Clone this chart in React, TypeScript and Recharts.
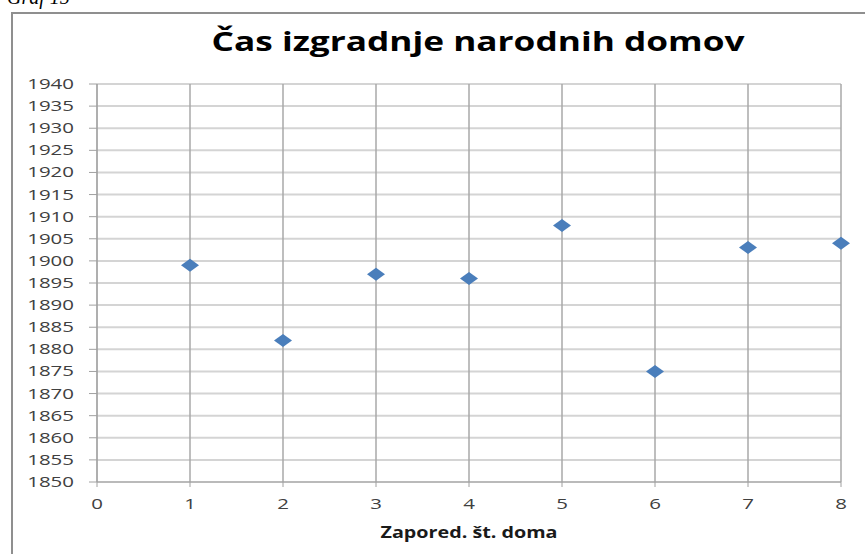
import { ScatterChart, Scatter, XAxis, YAxis, CartesianGrid } from 'recharts'

// zaporedna številka doma in leto izgradnje
const houseNo = [1, 2, 3, 4, 5, 6, 7, 8]
const builtYear = [1899, 1882, 1897, 1896, 1908, 1875, 1903, 1904]

const xTicks = [0, 1, 2, 3, 4, 5, 6, 7, 8]
const yTicks = [
  1850, 1855, 1860, 1865, 1870, 1875, 1880, 1885, 1890, 1895,
  1900, 1905, 1910, 1915, 1920, 1925, 1930, 1935, 1940
]

const title = 'Čas izgradnje narodnih domov'
const xTitle = 'Zapored. št. doma'
const caption = 'Graf 15'

const data = houseNo.map((n, i) => ({ n, year: builtYear[i] }))

const tickFont = "'Open Sans', sans-serif"
const digitWidth = 11.7

// eslint-disable-next-line @typescript-eslint/no-explicit-any
const YTick = (props: any) => {
  const { x, y, payload } = props
  const label = String(payload.value)
  return (
    <text
      x={x}
      y={y}
      dy={5}
      textAnchor="end"
      fontSize={15}
      fontFamily={tickFont}
      fill="#404040"
      textLength={label.length * digitWidth}
      lengthAdjust="spacingAndGlyphs"
    >
      {label}
    </text>
  )
}

// eslint-disable-next-line @typescript-eslint/no-explicit-any
const XTick = (props: any) => {
  const { x, y, payload } = props
  const label = String(payload.value)
  return (
    <text
      x={x}
      y={y}
      dy={5}
      textAnchor="middle"
      fontSize={15}
      fontFamily={tickFont}
      fill="#404040"
      textLength={label.length * digitWidth}
      lengthAdjust="spacingAndGlyphs"
    >
      {label}
    </text>
  )
}

// eslint-disable-next-line @typescript-eslint/no-explicit-any
const Diamond = (props: any) => {
  const { cx, cy } = props
  const w = 9
  const h = 6.5
  return (
    <polygon
      points={`${cx - w},${cy} ${cx},${cy - h} ${cx + w},${cy} ${cx},${cy + h}`}
      fill="#4A7EBB"
    />
  )
}

export default function App() {
  return (
    <div style={{ position: 'absolute', left: 0, top: 0, width: 865, height: 554, overflow: 'hidden', background: '#fff' }}>
      <style>{'body{margin:0}'}</style>
      <div
        style={{
          position: 'absolute',
          left: 11,
          top: 12,
          width: 900,
          height: 600,
          border: '2px solid #8f8f8f'
        }}
      />
      <div style={{ position: 'absolute', left: 0, top: 0 }}>
        <ScatterChart width={865} height={554} margin={{ top: 84, right: 24, bottom: 0, left: 0 }}>
          <CartesianGrid vertical={false} stroke="#d4d4d4" strokeWidth={2} />
          <CartesianGrid horizontal={false} stroke="#a8a8a8" strokeWidth={1.5} />
          <XAxis
            type="number"
            dataKey="n"
            domain={[0, 8]}
            ticks={xTicks}
            interval={0}
            height={72}
            stroke="#a0a0a0"
            tickSize={5}
            tickMargin={17}
            tick={<XTick />}
          />
          <YAxis
            type="number"
            dataKey="year"
            domain={[1850, 1940]}
            ticks={yTicks}
            interval={0}
            width={97}
            stroke="#a0a0a0"
            tickSize={8}
            tickMargin={15}
            tick={<YTick />}
          />
          <Scatter data={data} shape={<Diamond />} isAnimationActive={false} />
        </ScatterChart>
      </div>
      <svg width={865} height={554} style={{ position: 'absolute', left: 0, top: 0, pointerEvents: 'none' }}>
        <text
          x={7}
          y={4}
          fontSize={20}
          fontStyle="italic"
          fontFamily="'Liberation Serif', serif"
          fill="#000"
        >
          {caption}
        </text>
        <text
          x={478}
          y={51}
          textAnchor="middle"
          fontSize={27}
          fontWeight="bold"
          fontFamily={tickFont}
          fill="#000"
          textLength={533}
          lengthAdjust="spacingAndGlyphs"
        >
          {title}
        </text>
        <text
          x={469}
          y={538}
          textAnchor="middle"
          fontSize={16}
          fontWeight="bold"
          fontFamily={tickFont}
          fill="#1a1a1a"
          textLength={177}
          lengthAdjust="spacingAndGlyphs"
        >
          {xTitle}
        </text>
      </svg>
    </div>
  )
}
